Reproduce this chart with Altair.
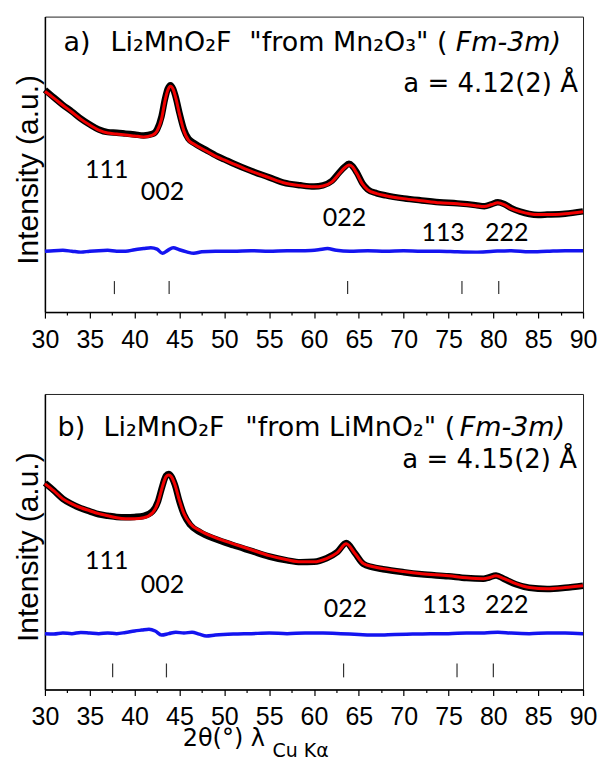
import altair as alt
import pandas as pd

# ---------------- panel a: Li2MnO2F made from Mn2O3 ----------------
two_theta_a = [30, 31, 32, 33, 34, 35, 36, 37, 38, 39,
               40, 41, 42, 42.5, 43, 43.4, 43.7, 44.0, 44.3, 44.6,
               45.0, 45.5, 46, 46.6, 48, 49.2, 50, 51, 52.9, 55,
               56.6, 58.5, 60, 61, 62, 62.8, 63.4, 63.9, 64.3, 64.8,
               65.4, 66, 67, 68, 70, 72, 74, 76, 78, 79,
               79.8, 80.5, 81.2, 82, 83, 84, 85, 86, 88, 90]
obs_a = [75.2, 72.6, 70.1, 67.9, 65.5, 63.5, 61.8, 60.9, 60.7, 60.4,
         60.1, 59.8, 60.3, 61.8, 66.2, 72.3, 75.6, 76.8, 75.5, 72.6,
         67.4, 61.8, 58.7, 57.3, 54.8, 52.8, 51.7, 50.3, 47.9, 45.6,
         43.8, 42.9, 42.5, 42.9, 44.4, 47.2, 49.1, 50.2, 49.4, 47.1,
         43.6, 41.5, 40.2, 39.5, 38.5, 37.8, 37.2, 36.8, 36.2, 35.8,
         36.5, 37.2, 36.6, 35.2, 34.0, 33.2, 32.9, 33.0, 33.3, 34.1]
calc_a = [74.7, 72.4, 70.0, 67.7, 65.3, 63.3, 61.6, 60.6, 60.3, 59.9,
          59.6, 59.3, 59.9, 61.3, 65.3, 71.7, 75.1, 76.4, 75.4, 72.4,
          67.0, 61.3, 58.2, 56.9, 54.5, 52.5, 51.5, 50.2, 47.8, 45.5,
          43.8, 42.8, 42.4, 42.7, 44.1, 46.8, 48.8, 49.8, 49.2, 46.8,
          43.4, 41.4, 40.1, 39.4, 38.4, 37.7, 37.0, 36.7, 36.0, 35.7,
          36.4, 37.0, 36.4, 35.0, 34.0, 33.3, 33.0, 33.0, 33.3, 34.0]
diff_x_a = [30, 31, 32, 33, 34, 35, 36, 37, 38, 39,
            40, 41, 41.8, 42.5, 43.1, 43.7, 44.3, 45, 45.8, 46.6,
            47.5, 49, 51, 53, 55, 57, 59, 60.5, 61.5, 62.5,
            64, 66, 68, 70, 72, 74, 76, 78, 80, 82,
            84, 86, 88, 90]
diff_a = [20.6, 20.8, 20.9, 20.6, 20.3, 20.6, 20.8, 20.9, 20.6, 20.6,
          21.1, 21.5, 21.8, 21.3, 19.9, 20.9, 21.8, 21.1, 20.4, 19.9,
          20.4, 20.6, 20.6, 20.8, 20.6, 20.8, 20.8, 21.1, 21.5, 20.9,
          20.6, 20.8, 20.6, 20.8, 20.6, 20.6, 20.4, 20.3, 20.6, 20.8,
          20.4, 20.6, 20.8, 20.8]
bragg_a = [37.75, 43.85, 63.75, 76.5, 80.6]

# ---------------- panel b: Li2MnO2F made from LiMnO2 ----------------
two_theta_b = [30, 31, 32, 33, 34, 35, 36, 37, 38, 39,
               40, 41, 42, 42.6, 43.1, 43.5, 43.8, 44.1, 44.5, 45.0,
               45.5, 46.2, 47.3, 49, 51, 53, 55, 57, 58.5, 60,
               61.4, 62.6, 63.6, 64.6, 65.5, 66.5, 67.7, 70, 72, 75,
               77, 78.9, 79.5, 80.3, 81.2, 82.5, 84, 86, 88, 90]
obs_b = [69.9, 67.3, 64.5, 62.7, 61.3, 60.3, 59.3, 58.8, 58.4, 58.3,
         58.4, 58.7, 60.3, 63.6, 68.9, 72.3, 72.9, 72.1, 69.2, 63.6,
         59.2, 55.7, 53.2, 50.9, 48.8, 46.9, 45.0, 43.7, 43.1, 43.2,
         44.4, 46.5, 49.6, 46.0, 42.5, 41.4, 40.7, 39.7, 39.0, 38.3,
         37.7, 37.5, 37.9, 38.6, 37.4, 35.6, 34.4, 34.0, 34.4, 35.1]
calc_b = [69.6, 67.2, 64.5, 62.8, 61.5, 60.5, 59.5, 58.8, 58.1, 57.8,
          57.8, 58.1, 59.8, 63.2, 68.6, 72.0, 72.6, 72.0, 69.3, 63.9,
          59.5, 56.1, 53.7, 51.4, 49.3, 47.3, 45.3, 43.9, 43.2, 43.2,
          44.3, 46.3, 49.3, 45.9, 42.6, 41.6, 40.9, 39.9, 39.2, 38.5,
          37.8, 37.5, 37.8, 38.5, 37.5, 35.8, 34.5, 34.1, 34.5, 35.1]
diff_x_b = [30, 31, 32, 33, 34, 35, 36, 37, 38, 39,
            40, 40.8, 41.6, 42.3, 43.0, 43.8, 44.6, 45.5, 46.4, 47.2,
            48.0, 49, 51, 53, 55, 57, 59, 61, 63, 65,
            67, 69, 71, 73, 75, 77, 79, 80.5, 82, 84,
            86, 88, 90]
diff_b = [18.9, 18.75, 19.1, 18.9, 19.3, 19.1, 18.9, 19.1, 18.9, 19.3,
          19.8, 20.1, 20.4, 19.8, 18.4, 18.9, 19.4, 19.1, 19.4, 18.75,
          18.1, 18.4, 18.75, 18.9, 19.1, 18.9, 19.1, 19.1, 18.9, 18.6,
          18.4, 18.6, 18.75, 18.9, 18.9, 19.1, 19.1, 19.4, 19.1, 18.9,
          19.1, 19.1, 18.9]
bragg_b = [37.55, 43.55, 63.3, 75.95, 80.0]

# ---------------- reflection labels ----------------
hkl = ["111", "002", "022", "113", "222"]
hkl_x_a = [36.9, 43.1, 63.4, 74.4, 81.5]
hkl_y_a = [48.0, 40.5, 31.8, 26.7, 26.7]
hkl_x_b = [36.9, 43.1, 63.5, 74.5, 81.5]
hkl_y_b = [43.6, 35.5, 27.4, 28.7, 28.7]

# ---------------- panel headings ----------------
head_a = ["a)", "Li₂MnO₂F", "\"from Mn₂O₃\" ("]
head_x_a = [32.08, 37.31, 52.79]
head_b = ["b)", "Li₂MnO₂F", "\"from LiMnO₂\" ("]
head_x_b = [31.41, 36.53, 52.35]
space_group = "Fm-3m)"
lattice_a = "a = 4.12(2) Å"
lattice_b = "a = 4.15(2) Å"

x_ticks = [30, 32.5, 35, 37.5, 40, 42.5, 45, 47.5, 50, 52.5, 55, 57.5, 60,
           62.5, 65, 67.5, 70, 72.5, 75, 77.5, 80, 82.5, 85, 87.5, 90]

PLOT_W, PLOT_H = 539, 296
X_SCALE = alt.Scale(domain=[30, 90], nice=False, zero=False)
Y_SCALE = alt.Scale(domain=[0, 100], nice=False, zero=False)
Y_TITLE = "Intensity (a.u.)"


def x_enc(field="x"):
    return alt.X(
        f"{field}:Q",
        scale=X_SCALE,
        title=None,
        axis=alt.Axis(
            values=x_ticks,
            format="d",
            labelExpr="datum.value % 5 === 0 ? datum.label : ''",
            tickSize={"condition": {"test": "datum.value % 5 === 0", "value": 6}, "value": 3},
            labelPadding=9,
            labelFont="Liberation Sans",
            labelFontSize=25,
            labelFlush=False,
            labelOverlap=False,
            grid=False,
        ),
    )


def y_enc(field="y"):
    return alt.Y(
        f"{field}:Q",
        scale=Y_SCALE,
        title=Y_TITLE,
        axis=alt.Axis(
            labels=False,
            ticks=False,
            grid=False,
            titleFont="Liberation Sans",
            titleFontSize=30,
            titleFontWeight="normal",
            titlePadding=1,
            titleY=153,
        ),
    )


def panel(tt, obs, calc, dx, diff, bragg, hx, hy, head, head_x, head_y,
          italic_x, lattice, lattice_x, lattice_y, bragg_top, bragg_bottom):
    pattern = pd.DataFrame({"x": tt, "obs": obs, "calc": calc})
    residual = pd.DataFrame({"x": dx, "y": diff})
    ticks = pd.DataFrame({"x": bragg})
    labels = pd.DataFrame({"x": hx, "y": hy, "text": hkl})
    heading = pd.DataFrame({"x": head_x, "y": [head_y] * len(head), "text": head})
    italic = pd.DataFrame({"x": [italic_x], "y": [head_y], "text": [space_group]})
    cell = pd.DataFrame({"x": [lattice_x], "y": [lattice_y], "text": [lattice]})

    observed = alt.Chart(pattern).mark_line(
        color="black", strokeWidth=6.5, interpolate="monotone"
    ).encode(x=x_enc(), y=y_enc("obs"))
    fitted = alt.Chart(pattern).mark_line(
        color="#f20000", strokeWidth=3, interpolate="monotone"
    ).encode(x=x_enc(), y=y_enc("calc"))
    difference = alt.Chart(residual).mark_line(
        color="#1414f0", strokeWidth=3.5, interpolate="monotone"
    ).encode(x=x_enc(), y=y_enc())
    positions = alt.Chart(ticks).mark_rule(color="#333333", strokeWidth=1.2).encode(
        x=x_enc(), y=alt.datum(bragg_top), y2=alt.datum(bragg_bottom))
    hkl_text = alt.Chart(labels).mark_text(
        font="Lato", fontSize=25, color="black", baseline="middle", align="center"
    ).encode(x=x_enc(), y=y_enc(), text="text:N")
    head_text = alt.Chart(heading).mark_text(
        font="DejaVu Sans", fontSize=27, color="black", align="left", baseline="alphabetic"
    ).encode(x=x_enc(), y=y_enc(), text="text:N")
    italic_text = alt.Chart(italic).mark_text(
        font="DejaVu Sans", fontSize=27, fontStyle="italic", color="black",
        align="left", baseline="alphabetic"
    ).encode(x=x_enc(), y=y_enc(), text="text:N")
    cell_text = alt.Chart(cell).mark_text(
        font="DejaVu Sans", fontSize=26, color="black", align="right", baseline="alphabetic"
    ).encode(x=x_enc(), y=y_enc(), text="text:N")

    return [observed, fitted, difference, positions, hkl_text, head_text, italic_text, cell_text]


layers_a = panel(two_theta_a, obs_a, calc_a, diff_x_a, diff_a, bragg_a, hkl_x_a, hkl_y_a,
                 head_a, head_x_a, 88.5, 75.8, lattice_a, 89.43, 74.4, 10.5, 6.1)
layers_b = panel(two_theta_b, obs_b, calc_b, diff_x_b, diff_b, bragg_b, hkl_x_b, hkl_y_b,
                 head_b, head_x_b, 85.8, 76.25, lattice_b, 89.32, 75.1, 8.8, 4.1)

# x-axis title with a subscripted radiation label, drawn under the lower panel
x_title_main = alt.Chart(pd.DataFrame({"t": ["2θ(°) λ"]})).mark_text(
    font="DejaVu Sans", fontSize=24, color="black", align="left", baseline="alphabetic"
).encode(x=alt.value(138), y=alt.value(353), text="t:N")
x_title_sub = alt.Chart(pd.DataFrame({"t": ["Cu Kα"]})).mark_text(
    font="DejaVu Sans", fontSize=19, color="black", align="left", baseline="alphabetic"
).encode(x=alt.value(228), y=alt.value(364), text="t:N")

top = alt.layer(*layers_a).properties(width=PLOT_W, height=PLOT_H)
bottom = alt.layer(*layers_b, x_title_main, x_title_sub).properties(width=PLOT_W, height=PLOT_H)

chart = (
    alt.vconcat(top, bottom, spacing=82, bounds="flush")
    .properties(padding={"left": 13, "top": 15, "right": 2, "bottom": 0})
    .configure_view(stroke="#222222", strokeWidth=1)
    .configure_axis(domainColor="black", domainWidth=1.5, tickColor="black",
                    tickWidth=1.2, labelColor="black", titleColor="black")
)

chart.save("out.html", embed_options={"renderer": "svg", "actions": False})
